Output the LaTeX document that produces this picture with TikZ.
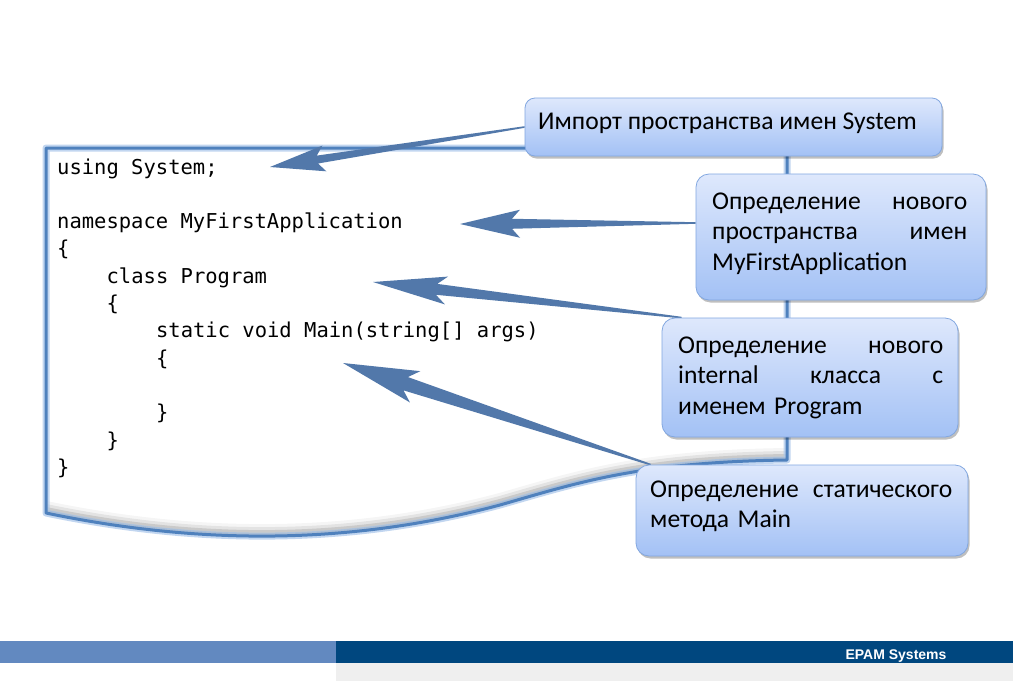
\documentclass[tikz,border=0pt]{standalone}
\usepackage{fontspec}
\setmainfont{Carlito}
\newfontfamily\codefont{DejaVu Sans Mono}
\newfontfamily\footfont{Liberation Sans}
\usetikzlibrary{calc,shadows}

\definecolor{frameblue}{HTML}{4F81BD}
\definecolor{glowblue}{HTML}{A9C6EA}
\definecolor{arrowblue}{HTML}{5278AA}
\definecolor{boxtop}{HTML}{DEE8FC}
\definecolor{boxbottom}{HTML}{A3C1F5}
\definecolor{boxline}{HTML}{82A7E0}
\definecolor{barlight}{HTML}{6289C0}
\definecolor{bardark}{HTML}{00477F}
\definecolor{bargray}{HTML}{EFEFEF}

\pgfdeclarelayer{back}
\pgfdeclarelayer{arrows}
\pgfsetlayers{back,arrows,main}

% tapered arrow: tail, tip, head length, notch length, head half-width, shaft half-width
\newcommand\taperarrow[6]{%
  \path ($(#2)!#3!(#1)$) coordinate (hb) ($(#2)!#4!(#1)$) coordinate (nb);
  \fill[arrowblue]
    ($(#1)!0.8pt!90:(#2)$) -- ($(nb)!#6!90:(#2)$) -- ($(hb)!#5!90:(#2)$) -- (#2)
    -- ($(hb)!#5!-90:(#2)$) -- ($(nb)!#6!-90:(#2)$) -- ($(#1)!0.8pt!-90:(#2)$) -- cycle;
}

\tikzset{
  note/.style={draw=boxline, line width=0.8pt, rounded corners=13pt,
    top color=boxtop, bottom color=boxbottom,
    drop shadow={shadow xshift=1.5pt, shadow yshift=-2.5pt, opacity=0.25, fill=black},
    inner sep=0pt},
  notetext/.style={font=\fontsize{25.6}{30.5}\selectfont, inner sep=0pt, align=left, anchor=base west},
  code/.style={font=\codefont\fontsize{20.5}{27}\selectfont, inner sep=0pt, anchor=base west},
}

\begin{document}
\begin{tikzpicture}[x=1pt,y=-1pt]
\useasboundingbox (0,0) rectangle (1013,681);

% callout boxes
\node[note, rounded corners=10pt, minimum width=417pt, minimum height=58pt] (b1) at (733.5,127) {};
\node[note, minimum width=290pt, minimum height=126pt] (b2) at (841,237) {};
\node[note, minimum width=296pt, minimum height=119pt] (b3) at (810,377.5) {};
\node[note, minimum width=332pt, minimum height=91pt] (b4) at (802,510.5) {};

\node[notetext] (t1) at (538,129) {Импорт пространства имен System};
\node[notetext, text width=255pt] (t2) at (712,209)
  {Определение\hfill нового\\пространства\hfill имен\\MyFirstApplication};
\node[notetext, text width=265pt] (t3) at (678,353)
  {Определение\hfill нового\\internal\hfill класса\hfill с\\именем Program};
\node[notetext, text width=302pt] (t4) at (650,497)
  {Определение\hfill статического\\метода Main};

% code frame with curled bottom edge
\begin{pgfonlayer}{back}
  \fill[white] (0,0) rectangle (1013,681);
  % soft shading just inside the curled edge
  \foreach \d/\o in {12/0.04,9/0.07,6/0.11,3/0.16}
    \draw[black, line width=\d pt, opacity=\o]
      (46,{513-\d*0.5}) .. controls (200,{545-\d*0.5}) and (350,{545-\d*0.5}) .. (500,{505-\d*0.5})
      .. controls (580,{482-\d*0.5}) and (640,{462-\d*0.5}) .. (787,{460-\d*0.5});
  \path (46,148) coordinate (ftl) (787,148) coordinate (ftr)
        (787,460) coordinate (fbr) (46,513) coordinate (fbl);
  \draw[glowblue, line width=7pt, line join=round, opacity=0.7]
    (ftl) -- (ftr) -- (fbr) .. controls (640,462) and (580,482) .. (500,505)
    .. controls (350,545) and (200,545) .. (fbl) -- cycle;
  \draw[frameblue, line width=3pt, line join=round]
    (ftl) -- (ftr) -- (fbr) .. controls (640,462) and (580,482) .. (500,505)
    .. controls (350,545) and (200,545) .. (fbl) -- cycle;

  % program listing
  \foreach \n/\k/\s in {1/0/{using System;}, 3/0/{namespace MyFirstApplication}, 4/0/\{,
      5/4/{class Program}, 6/4/\{, 7/8/{static void Main(string[] args)}, 8/8/\{,
      10/8/\}, 11/4/\}, 12/0/\}}
    \node[code] (code\n) at ({57+\k*12.36},{174+(\n-1)*27.3}) {\s};
\end{pgfonlayer}

% pointers from the notes into the listing
\coordinate (tip1) at (270,167);
\coordinate (tip2) at (460,224);
\coordinate (tip3) at (373,282);
\coordinate (tip4) at (343,363);
\coordinate (s1) at (b1.west);
\coordinate (s2) at ([yshift=14pt]b2.west);
\coordinate (s3) at ([xshift=20pt]b3.north west);
\coordinate (s4) at ([xshift=15pt]b4.north west);
\begin{pgfonlayer}{arrows}
  \taperarrow{s1}{tip1}{55pt}{48pt}{13pt}{4pt}
  \taperarrow{s2}{tip2}{60pt}{52pt}{14pt}{5pt}
  \taperarrow{s3}{tip3}{74pt}{64pt}{14pt}{5.5pt}
  \taperarrow{s4}{tip4}{76pt}{66pt}{16.5pt}{7pt}
\end{pgfonlayer}

% footer bar
\fill[barlight] (0,641) rectangle (336,663);
\fill[bardark] (336,641) rectangle (1013,663);
\fill[bargray] (336,663) rectangle (1013,681);
\node[font=\footfont\bfseries\fontsize{14}{16}\selectfont, text=white, inner sep=0pt, anchor=base]
  (epam) at (896,659) {EPAM Systems};
\end{tikzpicture}
\end{document}
